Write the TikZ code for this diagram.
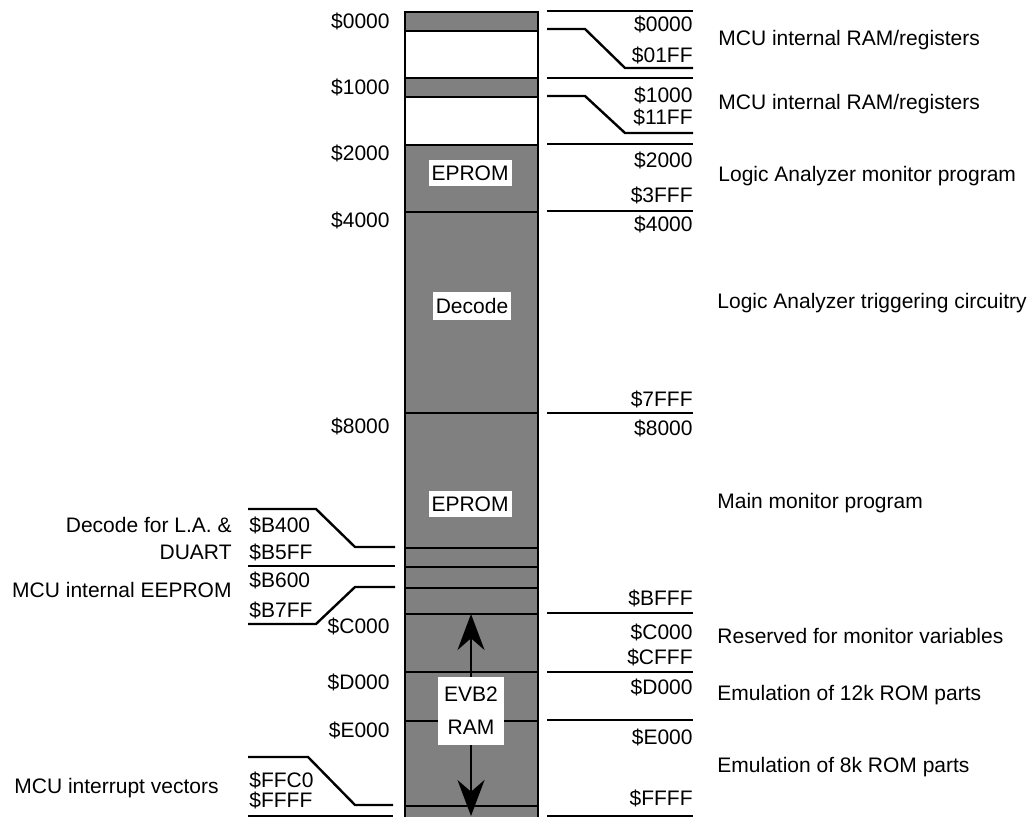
\documentclass[tikz,border=0pt]{standalone}
\usepackage{fontspec}
\setmainfont{Liberation Sans}
\usetikzlibrary{arrows.meta}
\definecolor{memgray}{RGB}{128,128,128}
\newcommand{\mapfont}{\fontsize{10.5}{16.5}\selectfont}

\begin{document}
\begin{tikzpicture}[x=0.5pt, y=-0.5pt,
		memline/.style={line width=1.2pt},
		every node/.style={font=\mapfont, inner sep=0pt},
		boxlbl/.style={fill=white, inner xsep=1.5pt, inner ysep=3pt},
		addrl/.style={anchor=east},
		addrr/.style={anchor=west}]
	\useasboundingbox (0,0) rectangle (1032,817);
	\def\xl{405}
	\def\xr{538}

	% Draw memory column
	\fill[memgray] (\xl,12) rectangle (\xr,830);
	\fill[white] (\xl,31) rectangle (\xr,78);
	\fill[white] (\xl,97) rectangle (\xr,145);
	\draw[memline] (\xl,830) -- (\xl,12) -- (\xr,12) -- (\xr,830);
	\foreach \y in {31,78,97,145,212,413,548,567,588,614,672,721,806}
		\draw[memline] (\xl,\y) -- (\xr,\y);

	% Draw right markers
	\foreach \y in {11,78,144,211,413,613,672,720,816}
		\draw[memline] (547,\y) -- (693,\y);
	\draw[memline] (547,29) -- (585,29) -- (625,68) -- (693,68);
	\draw[memline] (547,96) -- (585,96) -- (625,133) -- (693,133);

	% Draw left markers
	\draw[memline] (248,509) -- (316,509) -- (355,547) -- (395,547);
	\draw[memline] (248,566) -- (395,566);
	\draw[memline] (248,624) -- (316,624) -- (355,587) -- (395,587);
	\draw[memline] (248,757) -- (308,757) -- (355,805) -- (393,805);
	\draw[memline] (248,816) -- (393,816);

	% Labels inside column
	\node[boxlbl] (eprom) at (470,173) {EPROM};
	\node[boxlbl] (decode) at (472,306) {Decode};
	\node[boxlbl] (mainrom) at (470,504) {EPROM};
	\node[boxlbl, align=center, inner xsep=3.3pt, inner ysep=5pt] (evbram) at (471,711) {EVB2\\RAM};
	\coordinate (ramtop) at (471,614);
	\coordinate (rambot) at (471,816);
	\draw[-{Stealth[length=18pt,width=13.5pt]}, line width=1pt] (evbram) -- (ramtop);
	\draw[-{Stealth[length=18pt,width=13.5pt]}, line width=1pt] (evbram) -- (rambot);

	% Addresses left of column
	\node[addrl] (l0000) at (390,21) {\$0000};
	\node[addrl] (l1000) at (390,87) {\$1000};
	\node[addrl] (l2000) at (390,153) {\$2000};
	\node[addrl] (l4000) at (390,220) {\$4000};
	\node[addrl] (l8000) at (390,426) {\$8000};
	\node[addrl] (lc000) at (390,626) {\$C000};
	\node[addrl] (ld000) at (390,682) {\$D000};
	\node[addrl] (le000) at (390,730) {\$E000};

	% Left ranges
	\node[addrr] (b400) at (249,525) {\$B400};
	\node[addrr] (b5ff) at (249,552) {\$B5FF};
	\node[addrr] (b600) at (249,580) {\$B600};
	\node[addrr] (b7ff) at (249,610) {\$B7FF};
	\node[addrr] (ffc0) at (249,780) {\$FFC0};
	\node[addrr] (lffff) at (249,800) {\$FFFF};
	\node[addrl] (duart1) at (232,525) {Decode for L.A. \&};
	\node[addrl] (duart2) at (232,552) {DUART};
	\node[addrl] (eeprom) at (232,590) {MCU internal EEPROM};
	\node[addrl] (vectors) at (219,788) {MCU interrupt vectors};

	% Addresses right of column
	\node[addrl] (r0000) at (693,24) {\$0000};
	\node[addrl] (r01ff) at (693,55) {\$01FF};
	\node[addrl] (r1000) at (693,95) {\$1000};
	\node[addrl] (r11ff) at (693,117) {\$11FF};
	\node[addrl] (r2000) at (693,160) {\$2000};
	\node[addrl] (r3fff) at (693,195) {\$3FFF};
	\node[addrl] (r4000) at (693,224) {\$4000};
	\node[addrl] (r7fff) at (693,399) {\$7FFF};
	\node[addrl] (r8000) at (693,428) {\$8000};
	\node[addrl] (rbfff) at (693,598) {\$BFFF};
	\node[addrl] (rc000) at (693,632) {\$C000};
	\node[addrl] (rcfff) at (693,657) {\$CFFF};
	\node[addrl] (rd000) at (693,687) {\$D000};
	\node[addrl] (re000) at (693,737) {\$E000};
	\node[addrl] (rffff) at (693,798) {\$FFFF};

	% Descriptions
	\node[addrr] (ram1) at (718,40) {MCU internal RAM/registers};
	\node[addrr] (ram2) at (718,104) {MCU internal RAM/registers};
	\node[addrr] (lamon) at (718,176) {Logic Analyzer monitor program};
	\node[addrr] (latrig) at (717,303) {Logic Analyzer triggering circuitry};
	\node[addrr] (mainmon) at (717,503) {Main monitor program};
	\node[addrr] (monvar) at (717,636) {Reserved for monitor variables};
	\node[addrr] (emu12) at (717,695) {Emulation of 12k ROM parts};
	\node[addrr] (emu8) at (717,767) {Emulation of 8k ROM parts};
\end{tikzpicture}
\end{document}
